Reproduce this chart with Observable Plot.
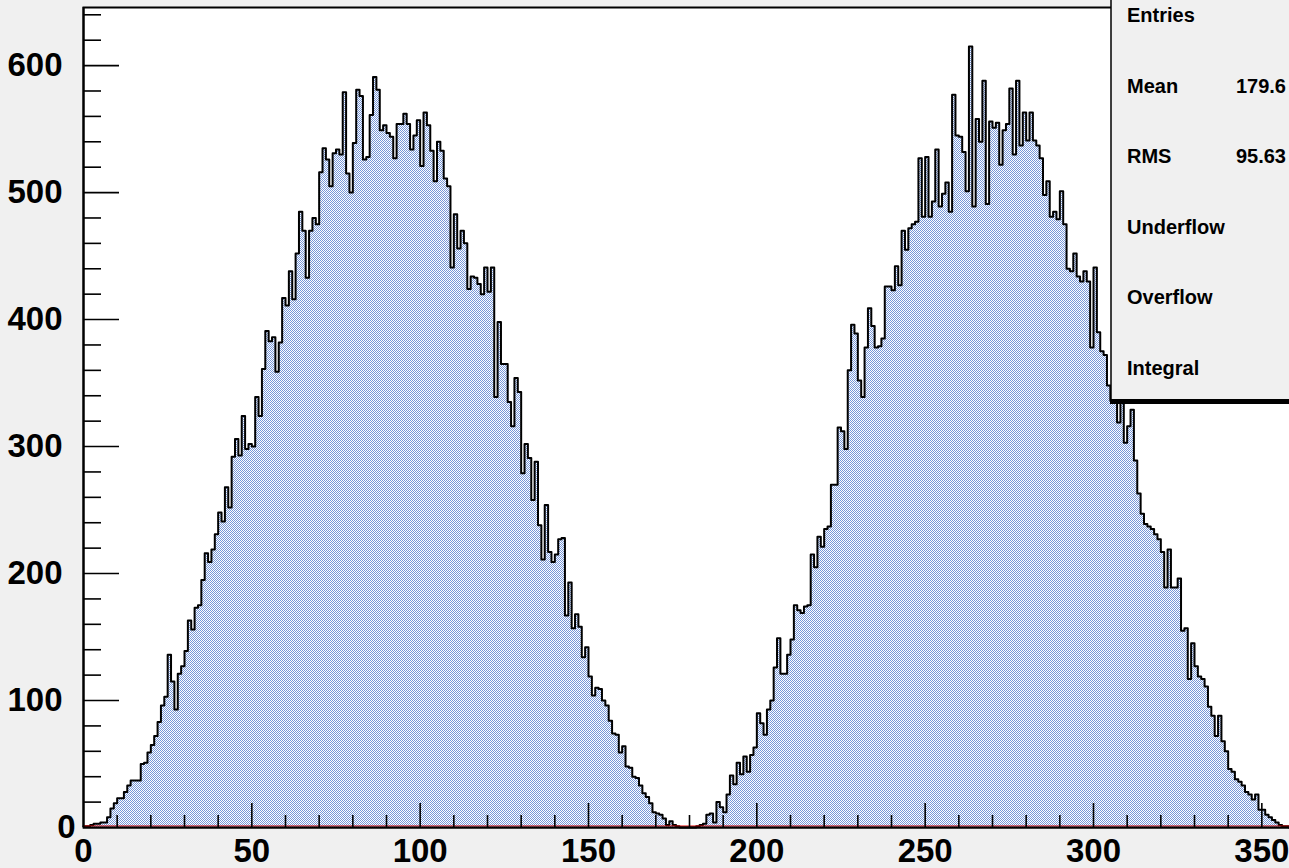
<!DOCTYPE html>
<html><head><meta charset="utf-8">
<script src="https://cdn.jsdelivr.net/npm/d3@7"></script>
<script src="https://cdn.jsdelivr.net/npm/@observablehq/plot@0.6"></script>
<style>
html,body{margin:0;padding:0;background:#f0f0f0;overflow:hidden;}
#chart svg{display:block;}
</style></head><body><div id="chart"></div>
<script>
// Histogram counts, one bin per degree (0..179 and 180..359)
const countsFirstHalf = [
  1,1,2,3,3,4,4,8,15,19,
  23,23,28,33,37,37,37,50,51,59,
  65,72,83,96,103,136,115,93,121,127,
  139,163,156,173,175,195,216,209,219,231,
  248,241,268,252,292,306,293,324,298,302,
  300,339,324,361,391,383,386,359,382,417,
  411,438,416,452,485,470,433,470,480,475,
  516,535,526,505,531,534,530,579,515,500,
  539,581,576,526,528,561,591,581,549,553,
  547,544,527,554,554,562,554,534,545,557,
  521,563,553,533,509,540,533,511,505,441,
  483,456,470,460,424,434,433,428,420,441,
  422,441,339,398,365,365,335,316,354,343,
  279,302,291,258,288,238,211,254,217,209,
  215,227,228,167,193,157,168,158,134,142,
  119,104,110,109,100,96,84,74,73,59,
  64,48,47,40,39,33,27,24,19,12,
  11,10,7,2,5,2,1,0,0,0
];
const countsSecondHalf = [
  0,0,1,2,3,10,11,4,20,16,
  12,26,41,34,51,42,56,44,57,63,
  90,82,73,93,100,126,149,121,121,136,
  148,175,171,169,174,175,215,205,229,221,
  235,237,270,270,315,312,298,360,396,389,
  352,339,378,409,395,378,379,385,426,426,
  423,442,427,470,455,472,475,477,527,481,
  528,481,493,534,489,499,508,485,577,545,
  544,532,501,615,489,558,540,588,491,556,
  551,555,522,549,554,582,530,588,537,563,
  541,563,541,537,527,498,509,481,485,479,
  501,475,440,438,452,434,430,438,430,378,
  441,390,375,372,348,336,342,319,340,303,
  316,329,289,263,247,239,237,235,231,227,
  217,189,219,189,189,196,155,157,117,145,
  127,119,117,111,95,88,72,88,68,60,
  46,44,38,36,33,28,26,22,26,14,
  14,10,8,6,4,2,1,1,0,0
];
const xRange = [0, 360];
const yRange = [0, 645.75];
const xMajorTicks = [0, 50, 100, 150, 200, 250, 300, 350];
const xMinorTicks = [10,20,30,40,60,70,80,90,110,120,130,140,160,170,180,190,210,220,230,240,260,270,280,290,310,320,330,340];
const yMajorTicks = [0, 100, 200, 300, 400, 500, 600];
const yMinorTicks = [20,40,60,80,120,140,160,180,220,240,260,280,320,340,360,380,420,440,460,480,520,540,560,580,620,640];
const statLabels = ["Entries", "Mean", "RMS", "Underflow", "Overflow", "Integral"];
const statValues = ["", "179.6", "95.63", "", "", ""];

const counts = countsFirstHalf.concat(countsSecondHalf);
const steps = counts.map((c, i) => ({x: i, y: c}));
steps.push({x: counts.length, y: counts[counts.length - 1]});

const W = 1289, H = 868;
const mL = 83, mR = -6, mT = 7, mB = 41;
const pxPerX = (W - mR - mL) / (xRange[1] - xRange[0]);
const pxPerY = (H - mB - mT) / (yRange[1] - yRange[0]);
const font = "'Liberation Sans', Arial, Helvetica, sans-serif";
const tickFont = {fontSize: 33, fontWeight: "bold", fontFamily: font, fill: "black"};

const chart = Plot.plot({
  width: W, height: H,
  marginLeft: mL, marginRight: mR, marginTop: mT, marginBottom: mB,
  style: {background: "#f0f0f0", overflow: "hidden"},
  x: {domain: xRange, axis: null},
  y: {domain: yRange, axis: null},
  marks: [
    Plot.frame({fill: "white", stroke: "black", strokeWidth: 2}),
    Plot.areaY(steps, {x: "x", y: "y", curve: "step-after", fill: "#8aa6de"}),
    Plot.line(steps, {x: "x", y: "y", curve: "step-after", stroke: "black", strokeWidth: 2}),
    Plot.ruleY([0], {stroke: "#e00000", strokeWidth: 1, dy: -1.5}),
    Plot.ruleY([0], {stroke: "black", strokeWidth: 2}),
    Plot.ruleX([0], {stroke: "black", strokeWidth: 2}),
    Plot.ruleY(yMinorTicks, {x1: 0, x2: 18 / pxPerX, stroke: "black", strokeWidth: 1.6}),
    Plot.ruleY(yMajorTicks.filter(d => d > 0), {x1: 0, x2: 36 / pxPerX, stroke: "black", strokeWidth: 1.6}),
    Plot.ruleX(xMinorTicks, {y1: 0, y2: 12 / pxPerY, stroke: "black", strokeWidth: 1.6}),
    Plot.ruleX(xMajorTicks.filter(d => d > 0), {y1: 0, y2: 24 / pxPerY, stroke: "black", strokeWidth: 1.6}),
    Plot.text(yMajorTicks.filter(d => d > 0), {x: 0, y: d => d, text: d => String(d), dx: -21, textAnchor: "end", ...tickFont}),
    Plot.text([0], {x: 0, y: 0, text: d => String(d), dx: -8, textAnchor: "end", ...tickFont}),
    Plot.text(xMajorTicks, {x: d => d, y: 0, text: d => String(d), dy: 24, textAnchor: "middle", ...tickFont})
  ]
});

const svg = d3.select(chart);
// checkered fill pattern
const defs = svg.insert("defs", ":first-child");
const pat = defs.append("pattern").attr("id", "chk").attr("width", 2).attr("height", 2).attr("patternUnits", "userSpaceOnUse");
pat.append("rect").attr("width", 2).attr("height", 2).attr("fill", "#ffffff");
pat.append("rect").attr("width", 1).attr("height", 1).attr("fill", "#7797d8");
pat.append("rect").attr("x", 1).attr("y", 1).attr("width", 1).attr("height", 1).attr("fill", "#7797d8");
svg.selectAll('g[aria-label="area"] path').attr("fill", "url(#chk)");

// statistics box
const box = svg.append("g").attr("font-family", font).attr("font-weight", "bold").attr("font-size", 20).attr("fill", "black");
box.append("rect").attr("x", 1111).attr("y", -10).attr("width", 200).attr("height", 411).attr("fill", "#f0f0f0").attr("stroke", "black").attr("stroke-width", 1.5);
box.append("rect").attr("x", 1110).attr("y", 399).attr("width", 200).attr("height", 5).attr("fill", "black");
statLabels.forEach((s, i) => {
  const yb = 22 + i * 70.6;
  box.append("text").attr("x", 1127).attr("y", yb).attr("text-anchor", "start").text(s);
  if (statValues[i]) box.append("text").attr("x", 1286).attr("y", yb).attr("text-anchor", "end").text(statValues[i]);
});

document.getElementById("chart").append(chart);
</script>
</body></html>
